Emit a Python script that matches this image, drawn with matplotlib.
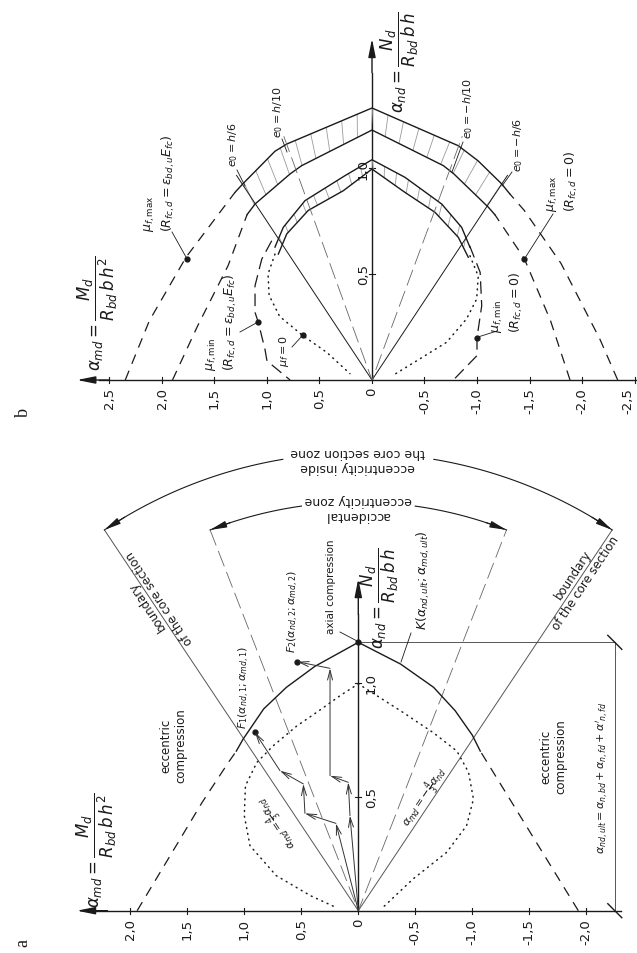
import numpy as np
import matplotlib
matplotlib.use("Agg")
import matplotlib.pyplot as plt
from matplotlib.lines import Line2D

plt.rcParams['font.family'] = ['DejaVu Sans']
plt.rcParams['mathtext.fontset'] = 'dejavusans'

PW, PH = 637, 954

# ---------------- panel a data ----------------
a_md_ticks = [2.0, 1.5, 1.0, 0.5, 0.0, -0.5, -1.0, -1.5, -2.0]
a_md_labels = ['2,0', '1,5', '1,0', '0,5', '0', '-0,5', '-1,0', '-1,5', '-2,0']
a_nd_ticks = [0.5, 1.0]
a_nd_labels = ['0,5', '1,0']

# ultimate strength curve K
k_md = [1.07, 1.01, 0.83, 0.63, 0.38, 0.0, -0.37, -0.66, -0.85, -1.0, -1.07]
k_nd = [0.70, 0.753, 0.885, 0.98, 1.072, 1.177, 1.082, 0.98, 0.877, 0.77, 0.70]

# dotted curve (plain section)
a_dot_md = [0.22, 0.42, 0.72, 0.95, 1.0, 0.99, 0.89, 0.745, 0.54, 0.365, 0.16, 0.0,
            -0.37, -0.66, -0.865, -0.967, -1.01, -0.95, -0.775, -0.48, -0.2]
a_dot_nd = [0.02, 0.066, 0.154, 0.285, 0.417, 0.548, 0.65, 0.724, 0.81, 0.87, 0.943, 0.995,
            0.877, 0.78, 0.70, 0.607, 0.49, 0.373, 0.256, 0.139, 0.007]

# heavy dashed lines
a_dash_l_md = [1.94, 1.37, 1.14, 1.07]
a_dash_l_nd = [0.0, 0.475, 0.65, 0.70]
a_dash_r_md = [-1.93, -1.07]
a_dash_r_nd = [0.0, 0.70]

# boundary of the core section and accidental eccentricity lines
a_core_md = [2.227, 0.0, -2.227]
a_core_nd = [1.67, 0.0, 1.67]
a_acc_md = [1.30, 0.0, -1.30]
a_acc_nd = [1.67, 0.0, 1.67]

# loading paths to F1 and F2
path1_md = [0.0, 0.196, 0.468, 0.482, 0.687, 0.906]
path1_nd = [0.0, 0.383, 0.427, 0.556, 0.614, 0.782]
path2_md = [0.0, 0.073, 0.088, 0.248, 0.248, 0.535]
path2_nd = [0.0, 0.417, 0.563, 0.592, 1.063, 1.092]

a_dim_md = -2.25

# ---------------- panel b data ----------------
b_md_ticks = [2.5, 2.0, 1.5, 1.0, 0.5, 0.0, -0.5, -1.0, -1.5, -2.0, -2.5]
b_md_labels = ['2,5', '2,0', '1,5', '1,0', '0,5', '0', '-0,5', '-1,0', '-1,5', '-2,0', '-2,5']
b_nd_ticks = [0.5, 1.0]
b_nd_labels = ['0,5', '1,0']

# outer hatched band
bo_hi_md = [1.305, 1.225, 0.924, 0.812, 0.0, -0.822, -1.01, -1.235, -1.314]
bo_hi_nd = [0.885, 0.928, 1.079, 1.113, 1.283, 1.105, 1.034, 0.925, 0.877]
bo_lo_md = [1.19, 1.114, 0.78, 0.67, 0.0, -0.68, -0.78, -1.108, -1.17]
bo_lo_nd = [0.78, 0.83, 0.972, 1.011, 1.179, 1.011, 0.972, 0.815, 0.78]

# inner hatched band
bi_hi_md = [0.924, 0.845, 0.638, 0.257, 0.0, -0.314, -0.664, -0.854, -0.933]
bi_hi_nd = [0.627, 0.72, 0.846, 0.964, 1.039, 0.956, 0.83, 0.72, 0.626]
bi_lo_md = [0.892, 0.812, 0.607, 0.273, 0.0, -0.314, -0.60, -0.822, -0.917]
bi_lo_nd = [0.594, 0.689, 0.80, 0.893, 0.995, 0.885, 0.791, 0.673, 0.579]

# e0 lines
b_h6_md = [1.29, 0.0, -1.29]
b_h6_nd = [0.965, 0.0, 0.965]
b_h10_md = [0.84, 0.0, -0.86]
b_h10_nd = [1.15, 0.0, 1.15]

# mu_f = 0 (dotted)
b_dot_l_md = [0.924, 0.99, 0.98, 0.88, 0.66, 0.43, 0.21]
b_dot_l_nd = [0.594, 0.50, 0.40, 0.30, 0.21, 0.13, 0.03]
b_dot_r_md = [-0.933, -1.012, -0.997, -0.90, -0.71, -0.457, -0.22]
b_dot_r_nd = [0.586, 0.49, 0.382, 0.288, 0.178, 0.10, 0.028]

# mu_f,min (dashed)
b_min_l_md = [0.955, 1.05, 1.114, 1.114, 1.083, 1.02, 1.0, 0.78]
b_min_l_nd = [0.657, 0.57, 0.445, 0.319, 0.272, 0.146, 0.09, 0.0]
b_min_r_md = [-0.93, -1.03, -1.045, -1.0, -1.0, -0.775]
b_min_r_nd = [0.633, 0.508, 0.35, 0.2, 0.115, 0.0]

# mu_f,max (dashed)
b_max1_l_md = [2.35, 2.12, 1.77, 1.45, 1.305]
b_max1_l_nd = [0.0, 0.28, 0.58, 0.79, 0.885]
b_max2_l_md = [1.90, 1.66, 1.37, 1.19]
b_max2_l_nd = [0.0, 0.256, 0.54, 0.78]
b_max1_r_md = [-2.34, -2.17, -1.80, -1.45, -1.314]
b_max1_r_nd = [0.0, 0.193, 0.55, 0.80, 0.877]
b_max2_r_md = [-1.886, -1.70, -1.45, -1.17]
b_max2_r_nd = [0.0, 0.28, 0.573, 0.78]

b_points_md = [1.765, 1.083, 0.66, -1.45, -1.0]
b_points_nd = [0.571, 0.272, 0.21, 0.573, 0.2]

# page layout (pixels)
A_X0, A_Y0, A_SX, A_SY = 358.3, 911.7, 114.0, 228.0
B_X0, B_Y0, B_SX, B_SY = 372.0, 381.0, 105.0, 212.0
SPLIT = 430

INK = '#1a1a1a'
THIN = '#555555'
FS = 8


def fxy(x, y):
    return x / PW, 1 - y / PH


def ftext(fig, x, y, s, rot=90, size=FS, **kw):
    kw.setdefault('ha', 'center')
    kw.setdefault('va', 'center')
    fig.text(*fxy(x, y), s, rotation=rot, fontsize=size, color=INK, **kw)


def leader(fig, x1, y1, x2, y2):
    (a, b), (c, d) = fxy(x1, y1), fxy(x2, y2)
    fig.add_artist(Line2D([a, c], [b, d], lw=0.6, color=INK))


def arrow(ax, start, end, style, lw=1.0, color=INK):
    ax.annotate('', xy=end, xytext=start,
                arrowprops=dict(arrowstyle=style, lw=lw, color=color,
                                shrinkA=0, shrinkB=0, mutation_scale=10))


def arrow_path(ax, md, nd):
    for i in range(len(md) - 1):
        arrow(ax, (md[i], nd[i]), (md[i + 1], nd[i + 1]),
              '->,head_length=0.7,head_width=0.18', lw=0.7, color='#333333')


def hatch_band(ax, sx, sy, md1, nd1, md2, nd2, n):
    """Grey hatch strokes joining two polylines at equal arc-length fractions."""
    def resample(md, nd, t):
        p = np.column_stack([-sx * np.asarray(md), sy * np.asarray(nd)])
        seg = np.hypot(*np.diff(p, axis=0).T)
        s = np.concatenate([[0], np.cumsum(seg)]) / seg.sum()
        return np.interp(t, s, md), np.interp(t, s, nd)
    t = np.linspace(0.04, 0.96, n)
    x1, y1 = resample(md1, nd1, t)
    x2, y2 = resample(md2, nd2, t)
    for i in range(n):
        ax.plot([x1[i], x2[i]], [y1[i], y2[i]], color='#9a9a9a', lw=0.6)


def setup_axes(fig, rect, x0, y0, sx, sy, top, bottom):
    ax = fig.add_axes(rect)
    ax.set_xlim(x0 / sx, (x0 - PW) / sx)
    ax.set_ylim((y0 - bottom) / sy, (y0 - top) / sy)
    ax.axis('off')
    return ax


def draw_panel_a(fig):
    ax = setup_axes(fig, [0, 0, 1, (PH - SPLIT) / PH], A_X0, A_Y0, A_SX, A_SY, SPLIT, PH)

    # axes
    ax.plot([-2.3, 2.3], [0, 0], color=INK, lw=1.0)
    arrow(ax, (2.2, 0), (2.47, 0), '-|>,head_length=1.1,head_width=0.22')
    ax.plot([0, 0], [0, 1.3], color=INK, lw=1.0)
    arrow(ax, (0, 1.3), (0, 1.456), '-|>,head_length=1.1,head_width=0.22')
    for v, lab in zip(a_md_ticks, a_md_labels):
        ax.plot([v, v], [-3 / A_SY, 3 / A_SY], color=INK, lw=0.8)
        ftext(fig, A_X0 - A_SX * v, 919, lab, size=9.5, va='top')
    for v, lab in zip(a_nd_ticks, a_nd_labels):
        ax.plot([-3 / A_SX, 3 / A_SX], [v, v], color=INK, lw=0.8)
        ftext(fig, 365, A_Y0 - A_SY * v, lab, size=9.5, ha='left')

    # core boundary and accidental eccentricity lines
    ax.plot(a_core_md, a_core_nd, color=THIN, lw=0.7)
    ax.plot(a_acc_md, a_acc_nd, color='#666666', lw=0.6, ls=(0, (20, 7)))
    ax.plot(a_dash_l_md, a_dash_l_nd, color=INK, lw=0.9, ls=(0, (8, 6)))
    ax.plot(a_dash_r_md, a_dash_r_nd, color=INK, lw=0.9, ls=(0, (8, 6)))
    ax.plot(a_dot_md, a_dot_nd, color=INK, lw=1.1, ls=(0, (0.6, 3.2)),
            dash_capstyle='round')
    ax.plot(k_md, k_nd, color=INK, lw=1.0)

    # dimension line of the axial resistance
    top = k_nd[k_md.index(0.0)]
    ax.plot([0, a_dim_md, a_dim_md], [top, top, 0], color=THIN, lw=0.7)
    for y in (top, 0.0):
        ax.plot([a_dim_md + 7 / A_SX, a_dim_md - 7 / A_SX],
                [y + 7 / A_SY, y - 7 / A_SY], color=INK, lw=1.0)

    # load paths
    arrow_path(ax, path1_md, path1_nd)
    arrow_path(ax, path2_md, path2_nd)
    ax.plot([path1_md[-1], path2_md[-1], 0.0], [path1_nd[-1], path2_nd[-1], top],
            'o', color=INK, ms=3.5, ls='none')

    # zone arcs, circular on the page
    for md_end, nd_end, gap in ((a_acc_md[0], a_acc_nd[0], 8.0),
                                (a_core_md[0], a_core_nd[0], 9.5)):
        r = np.hypot(A_SX * md_end, A_SY * nd_end)
        phi_l = np.degrees(np.arctan2(A_SY * nd_end, -A_SX * md_end))
        phi_r = 180 - phi_l
        for p1, p2 in ((90 + gap, phi_l), (90 - gap, phi_r)):
            phi = np.radians(np.linspace(p1, p2, 60))
            md = -r * np.cos(phi) / A_SX
            nd = r * np.sin(phi) / A_SY
            ax.plot(md, nd, color=INK, lw=0.8)
            step = 3.0 if p2 > p1 else -3.0
            ps = np.radians(p2 - step)
            arrow(ax, (-r * np.cos(ps) / A_SX, r * np.sin(ps) / A_SY), (md[-1], nd[-1]),
                  '-|>,head_length=1.0,head_width=0.2', lw=0.8)

    # labels
    ftext(fig, 97, 850, r'$\alpha_{md}=\dfrac{M_d}{R_{bd}\,b\,h^2}$', size=12)
    ftext(fig, 380, 598, r'$\alpha_{nd}=\dfrac{N_d}{R_{bd}\,b\,h}$', size=12)
    ftext(fig, 173, 746, 'eccentric\ncompression', size=8.5)
    ftext(fig, 553, 757, 'eccentric\ncompression', size=8.5)
    ftext(fig, 331, 587, 'axial compression', size=7.5)
    leader(fig, 340, 633, 357, 642)
    ftext(fig, 244, 688, r'$F_1(\alpha_{nd,1};\alpha_{md,1})$')
    ftext(fig, 293, 612, r'$F_2(\alpha_{nd,2};\alpha_{md,2})$')
    ftext(fig, 423, 580, r'$K(\alpha_{nd,ult};\alpha_{md,ult})$', size=9)
    leader(fig, 411, 634, 401, 663)
    ftext(fig, 603, 778, r"$\alpha_{nd,ult}=\alpha_{n,bd}+\alpha_{n,fd}+\alpha'_{n,fd}$")
    ftext(fig, 278, 822, r'$\alpha_{md}=\frac{4}{3}\alpha_{nd}$', rot=123.7)
    ftext(fig, 425, 797, r'$\alpha_{md}=-\frac{4}{3}\alpha_{nd}$', rot=56.3)
    ftext(fig, 153, 602, 'boundary\nof the core section', rot=123.7, size=8.5,
          multialignment='center')
    ftext(fig, 579, 579, 'boundary\nof the core section', rot=56.3, size=8.5,
          multialignment='center')
    ftext(fig, 358, 508, 'accidental\neccentricity zone', rot=180, size=9,
          multialignment='center')
    ftext(fig, 358, 460, 'eccentricity inside\nthe core section zone', rot=180, size=9,
          multialignment='center')
    fig.text(*fxy(23, 943), 'a', rotation=90, fontsize=13, family='Liberation Serif',
             ha='center', va='center', color=INK)


def draw_panel_b(fig):
    ax = setup_axes(fig, [0, 1 - SPLIT / PH, 1, SPLIT / PH], B_X0, B_Y0, B_SX, B_SY, 0, SPLIT)

    ax.plot([-2.55, 2.6], [0, 0], color=INK, lw=1.0)
    arrow(ax, (2.5, 0), (2.81, 0), '-|>,head_length=1.1,head_width=0.22')
    ax.plot([0, 0], [0, 1.45], color=INK, lw=1.0)
    arrow(ax, (0, 1.45), (0, 1.61), '-|>,head_length=1.1,head_width=0.22')
    for v, lab in zip(b_md_ticks, b_md_labels):
        ax.plot([v, v], [-3 / B_SY, 3 / B_SY], color=INK, lw=0.8)
        ftext(fig, min(B_X0 - B_SX * v, 628), 388, lab, size=9.5, va='top')
    for v, lab in zip(b_nd_ticks, b_nd_labels):
        ax.plot([-3 / B_SX, 3 / B_SX], [v, v], color=INK, lw=0.8)
        ftext(fig, 370, B_Y0 - B_SY * v, lab, size=9.5, ha='right')

    hatch_band(ax, B_SX, B_SY, bo_hi_md, bo_hi_nd, bo_lo_md, bo_lo_nd, 19)
    hatch_band(ax, B_SX, B_SY, bi_hi_md, bi_hi_nd, bi_lo_md, bi_lo_nd, 19)
    for md, nd in ((bo_hi_md, bo_hi_nd), (bo_lo_md, bo_lo_nd),
                   (bi_hi_md, bi_hi_nd), (bi_lo_md, bi_lo_nd)):
        ax.plot(md, nd, color=INK, lw=1.0)

    ax.plot(b_h6_md, b_h6_nd, color=INK, lw=0.7)
    ax.plot(b_h10_md, b_h10_nd, color='#666666', lw=0.6, ls=(0, (20, 7)))
    for md, nd in ((b_dot_l_md, b_dot_l_nd), (b_dot_r_md, b_dot_r_nd)):
        ax.plot(md, nd, color=INK, lw=1.1, ls=(0, (0.6, 3.2)), dash_capstyle='round')
    for md, nd in ((b_min_l_md, b_min_l_nd), (b_min_r_md, b_min_r_nd)):
        ax.plot(md, nd, color=INK, lw=0.9, ls=(0, (10, 5)))
    for md, nd in ((b_max1_l_md, b_max1_l_nd), (b_max2_l_md, b_max2_l_nd),
                   (b_max1_r_md, b_max1_r_nd), (b_max2_r_md, b_max2_r_nd)):
        ax.plot(md, nd, color=INK, lw=0.9, ls=(0, (8, 6)))
    ax.plot(b_points_md, b_points_nd, 'o', color=INK, ms=3.5, ls='none')

    ftext(fig, 98, 313, r'$\alpha_{md}=\dfrac{M_d}{R_{bd}\,b\,h^2}$', size=12)
    ftext(fig, 400, 62, r'$\alpha_{nd}=\dfrac{N_d}{R_{bd}\,b\,h}$', size=12)
    ftext(fig, 160, 183, '$\\mu_{f,\\mathrm{max}}$\n$(R_{fc,d}=\\varepsilon_{bd,u}E_{fc})$',
          size=9, multialignment='left')
    leader(fig, 172, 233, 186, 258)
    ftext(fig, 222, 322, '$\\mu_{f,\\mathrm{min}}$\n$(R_{fc,d}=\\varepsilon_{bd,u}E_{fc})$',
          size=9, multialignment='left')
    leader(fig, 240, 333, 258, 323)
    ftext(fig, 284, 351, r'$\mu_f=0$')
    leader(fig, 292, 348, 302, 337)
    ftext(fig, 233, 145, r'$e_0=h/6$')
    leader(fig, 237, 171, 245, 187)
    ftext(fig, 278, 112, r'$e_0=h/10$')
    leader(fig, 282, 140, 287, 153)
    ftext(fig, 468, 108, r'$e_0=-h/10$')
    leader(fig, 463, 143, 452, 173)
    ftext(fig, 518, 145, r'$e_0=-h/6$')
    leader(fig, 512, 173, 502, 187)
    ftext(fig, 563, 182, '$\\mu_{f,\\mathrm{max}}$\n$(R_{fc,d}=0)$', size=9,
          multialignment='left')
    leader(fig, 553, 215, 525, 259)
    ftext(fig, 508, 303, '$\\mu_{f,\\mathrm{min}}$\n$(R_{fc,d}=0)$', size=9,
          multialignment='left')
    leader(fig, 497, 332, 478, 338)
    fig.text(*fxy(23, 413), 'b', rotation=90, fontsize=13, family='Liberation Serif',
             ha='center', va='center', color=INK)


def main():
    fig = plt.figure(figsize=(PW / 100, PH / 100), dpi=100)
    fig.patch.set_facecolor('white')
    draw_panel_a(fig)
    draw_panel_b(fig)
    fig.savefig('out.png', dpi=100, facecolor='white')


if __name__ == "__main__":
    main()
